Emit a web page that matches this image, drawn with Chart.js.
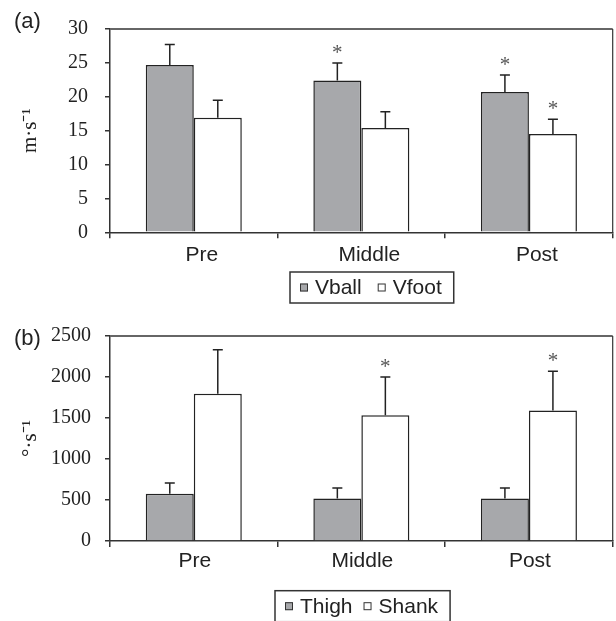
<!DOCTYPE html>
<html>
<head>
<meta charset="utf-8">
<script src="https://cdn.jsdelivr.net/npm/chart.js@4.4.1/dist/chart.umd.min.js"></script>
<style>
  html, body { margin: 0; padding: 0; background: #fff; }
  .panel { position: absolute; left: 0; }
</style>
</head>
<body>
<div class="panel" style="top:0"><canvas id="panelA" width="616" height="310"></canvas></div>
<div class="panel" style="top:310px"><canvas id="panelB" width="616" height="311"></canvas></div>
<script>
// Test phases
const phases = ['Pre', 'Middle', 'Post'];

// (a) linear velocities, m·s⁻¹ (mean and SD)
const vball = [24.7, 22.4, 20.7];
const vballSd = [3.0, 2.6, 2.5];
const vballSig = [false, true, true];
const vfoot = [16.9, 15.4, 14.5];
const vfootSd = [2.6, 2.4, 2.2];
const vfootSig = [false, false, true];
const ticksA = [0, 5, 10, 15, 20, 25, 30];

// (b) angular velocities, °·s⁻¹ (mean and SD)
const thigh = [575, 518, 518];
const thighSd = [132, 127, 127];
const thighSig = [false, false, false];
const shank = [1797, 1535, 1592];
const shankSd = [534, 466, 478];
const shankSig = [false, true, true];
const ticksB = [0, 500, 1000, 1500, 2000, 2500];

const SERIF = '"Liberation Serif", "Times New Roman", serif';
const SANS = '"Liberation Sans", Arial, Helvetica, sans-serif';
const INK = '#222';
const GREY = '#a7a8ab';

// SD whiskers (upper only) and significance asterisks
const errorBars = {
  id: 'errorBars',
  afterDatasetsDraw(chart) {
    const { ctx } = chart;
    const y = chart.scales.y;
    chart.data.datasets.forEach((ds, i) => {
      const meta = chart.getDatasetMeta(i);
      meta.data.forEach((bar, j) => {
        const top = y.getPixelForValue(ds.data[j] + ds.sd[j]);
        ctx.save();
        ctx.strokeStyle = INK;
        ctx.lineWidth = 1.5;
        ctx.beginPath();
        ctx.moveTo(bar.x, bar.y);
        ctx.lineTo(bar.x, top);
        ctx.moveTo(bar.x - 5, top);
        ctx.lineTo(bar.x + 5, top);
        ctx.stroke();
        if (ds.sig[j]) {
          ctx.fillStyle = '#555';
          ctx.font = '21px ' + SERIF;
          ctx.textAlign = 'center';
          ctx.textBaseline = 'alphabetic';
          ctx.fillText('*', bar.x, top - 4);
        }
        ctx.restore();
      });
    });
  }
};

// Top/right frame, panel tag and boxed legend
const decorations = {
  id: 'decorations',
  afterDraw(chart, args, opts) {
    const { ctx, chartArea: { left, top, right, bottom } } = chart;
    ctx.save();
    ctx.strokeStyle = '#666';
    ctx.lineWidth = 2;
    ctx.beginPath();
    ctx.moveTo(left, top);
    ctx.lineTo(right, top);
    ctx.stroke();
    ctx.strokeStyle = '#333';
    ctx.lineWidth = 1.2;
    ctx.beginPath();
    ctx.moveTo(right, top);
    ctx.lineTo(right, bottom);
    ctx.stroke();

    // panel tag
    ctx.fillStyle = INK;
    ctx.font = '22px ' + SANS;
    ctx.textAlign = 'left';
    ctx.textBaseline = 'alphabetic';
    ctx.fillText(opts.tag, 14, opts.tagY);

    // legend
    const lg = opts.legend;
    const midY = lg.top + lg.height / 2;
    ctx.font = '21px ' + SANS;
    ctx.textBaseline = 'middle';
    let x = lg.left + 10;
    chart.data.datasets.forEach((ds, i) => {
      ctx.fillStyle = ds.backgroundColor;
      ctx.fillRect(x, midY - 4, 8, 8);
      ctx.strokeStyle = '#333';
      ctx.lineWidth = 1;
      ctx.strokeRect(x + 0.5, midY - 3.5, 7, 7);
      x += 15;
      ctx.fillStyle = INK;
      ctx.fillText(ds.label, x, midY + 1);
      x += ctx.measureText(ds.label).width;
      if (i < chart.data.datasets.length - 1) x += lg.gap;
    });
    const w = x + 12 - lg.left;
    ctx.strokeStyle = '#333';
    ctx.lineWidth = 1.5;
    ctx.strokeRect(lg.left, lg.top, w, lg.height);
    ctx.restore();
  }
};

function panel(canvasId, sets, ticks, yTitle, o) {
  const yMax = ticks[ticks.length - 1];
  const step = ticks[1] - ticks[0];
  return new Chart(document.getElementById(canvasId), {
    type: 'bar',
    data: {
      labels: phases,
      datasets: sets.map(s => ({
        label: s.label,
        data: s.data,
        sd: s.sd,
        sig: s.sig,
        backgroundColor: s.color,
        borderColor: INK,
        borderWidth: 1.5,
        categoryPercentage: 0.573,
        barPercentage: 1.0
      }))
    },
    options: {
      responsive: false,
      animation: false,
      devicePixelRatio: 1,
      layout: { padding: { left: 0, right: 3.3, top: o.padTop, bottom: 0 } },
      plugins: {
        legend: { display: false },
        tooltip: { enabled: false },
        decorations: { tag: o.tag, tagY: o.tagY, legend: o.legend }
      },
      scales: {
        x: {
          grid: { offset: true, drawOnChartArea: false, tickLength: 6, color: '#333', lineWidth: 1.5 },
          border: { color: '#333', width: 1.5 },
          ticks: { color: INK, font: { family: SANS, size: 21 }, padding: o.xPad, labelOffset: o.labelOffset, maxRotation: 0 },
          afterFit(s) { s.height = o.xHeight; }
        },
        y: {
          min: 0,
          max: yMax,
          afterBuildTicks(s) { s.ticks = ticks.map(v => ({ value: v })); },
          ticks: { stepSize: step, color: INK, font: { family: SERIF, size: 20 }, padding: o.yPad,
                   callback: v => String(v) },
          grid: { drawOnChartArea: false, tickLength: 5, color: '#333', lineWidth: 1.5 },
          border: { color: '#333', width: 1.5 },
          title: { display: true, text: yTitle, color: INK, font: { family: SERIF, size: 21 }, padding: { top: 18, bottom: 0 } },
          afterFit(s) { s.width = 110; }
        }
      }
    },
    plugins: [errorBars, decorations]
  });
}

panel('panelA', [
  { label: 'Vball', data: vball, sd: vballSd, sig: vballSig, color: GREY },
  { label: 'Vfoot', data: vfoot, sd: vfootSd, sig: vfootSig, color: '#ffffff' }
], ticksA, 'm·s⁻¹', {
  padTop: 25.7, xHeight: 77.7, xPad: 4, labelOffset: 8, yPad: 17,
  tag: '(a)', tagY: 28,
  legend: { left: 290, top: 272, height: 31, gap: 16 }
});

panel('panelB', [
  { label: 'Thigh', data: thigh, sd: thighSd, sig: thighSig, color: GREY },
  { label: 'Shank', data: shank, sd: shankSd, sig: shankSig, color: '#ffffff' }
], ticksB, '°·s⁻¹', {
  padTop: 24.5, xHeight: 80, xPad: 2, labelOffset: 1, yPad: 14,
  tag: '(b)', tagY: 35,
  legend: { left: 275, top: 280.7, height: 31, gap: 11 }
});
</script>
</body>
</html>
